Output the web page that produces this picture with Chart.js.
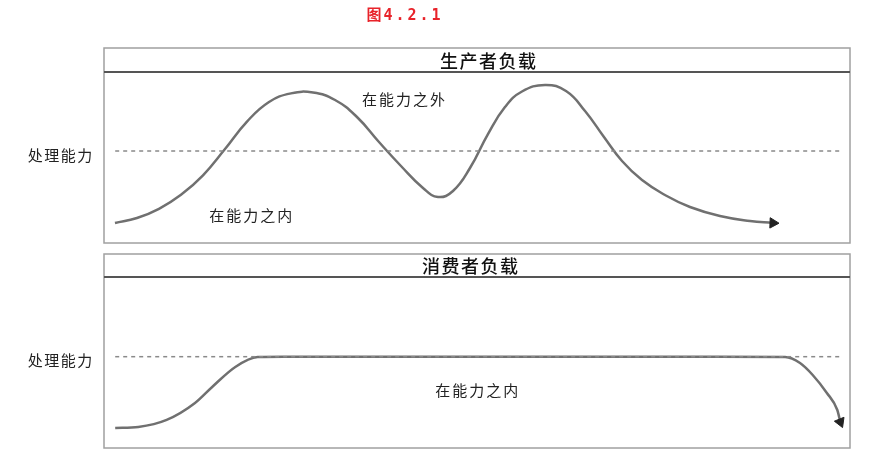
<!DOCTYPE html>
<html>
<head>
<meta charset="utf-8">
<script src="https://cdn.jsdelivr.net/npm/chart.js@4"></script>
<style>
  html, body { margin: 0; padding: 0; background: #fff; }
  #wrap { position: relative; width: 885px; height: 471px; }
  #c1 { position: absolute; left: 0; top: 0; }
  #c2 { position: absolute; left: 0; top: 250px; }
</style>
</head>
<body>
<div id="wrap">
  <canvas id="c1" width="885" height="250"></canvas>
  <canvas id="c2" width="885" height="221"></canvas>
</div>
<script>
// ---- data ----
const figureTitle = "图4.2.1";
const producerTitle = "生产者负载";
const consumerTitle = "消费者负载";
const capacityLabel = "处理能力";
const outsideLabel = "在能力之外";
const insideLabel = "在能力之内";

const producerX = [1.47, 4.42, 7.37, 10.32, 13.27, 16.22, 19.17, 22.12, 25.07, 28.02, 30.97, 33.91, 36.86, 39.81, 42.76, 44.77, 46.78, 49.06, 51.47, 53.75, 56.03, 59.12, 61.93, 64.48, 67.02, 69.44, 72.12, 75.20, 78.55, 82.57, 86.60, 89.68];
const producerY = [11.70, 14.62, 20.00, 28.20, 39.60, 54.97, 71.00, 82.46, 87.50, 88.00, 83.63, 73.68, 59.06, 45.03, 32.16, 26.90, 30.41, 43.86, 63.74, 79.50, 88.60, 92.40, 88.89, 77.19, 61.99, 47.95, 36.80, 28.07, 21.05, 15.79, 12.87, 11.70];
const producerCapacity = 53.8;

const consumerX = [1.5, 4.6, 8.4, 12.2, 14.5, 17.6, 20.6, 24.0, 40.0, 60.0, 80.0, 91.3, 93.3, 95.0, 96.9, 98.3, 98.7];
const consumerY = [11.7, 12.3, 16.4, 26.3, 35.7, 47.4, 53.2, 53.4, 53.4, 53.4, 53.4, 53.2, 49.7, 42.7, 32.2, 22.2, 15.2];
const consumerCapacity = 53.4;

const capacityX = [1.5, 99.0];

const lineColor = '#707070';
const dashColor = '#8a8a8a';
const cjk = '"Noto Sans CJK SC", "Noto Sans", sans-serif';

function pts(xs, ys) { return xs.map((x, i) => ({ x: x, y: ys[i] })); }

function spaced(ctx, text, x, y, spacing, align) {
  const chars = Array.from(text);
  const widths = chars.map(c => ctx.measureText(c).width);
  const total = widths.reduce((s, w) => s + w, 0) + spacing * (chars.length - 1);
  let cx = align === 'center' ? x - total / 2 : x;
  const saved = ctx.textAlign;
  ctx.textAlign = 'left';
  chars.forEach((c, i) => { ctx.fillText(c, cx, y); cx += widths[i] + spacing; });
  ctx.textAlign = saved;
}

function panelPlugin(cfg) {
  return {
    id: 'panel',
    afterDraw(chart) {
      const ctx = chart.ctx;
      const a = chart.chartArea;
      const xs = chart.scales.x, ys = chart.scales.y;
      ctx.save();
      ctx.strokeStyle = '#a0a0a0';
      ctx.lineWidth = 1.5;
      ctx.strokeRect(a.left, a.top - cfg.headerH, a.right - a.left, a.bottom - a.top + cfg.headerH);
      ctx.strokeStyle = '#555';
      ctx.lineWidth = 2;
      ctx.beginPath();
      ctx.moveTo(a.left, a.top);
      ctx.lineTo(a.right, a.top);
      ctx.stroke();
      ctx.fillStyle = '#111';
      ctx.font = '500 18px ' + cjk;
      ctx.textBaseline = 'middle';
      spaced(ctx, cfg.header, cfg.headerX, a.top - cfg.headerH / 2 + 1, 1.5, 'center');
      ctx.font = '15px ' + cjk;
      ctx.fillStyle = '#222';
      spaced(ctx, capacityLabel, 60, ys.getPixelForValue(cfg.capacity) + 4, 1.5, 'center');
      ctx.font = '15px ' + cjk;
      cfg.notes.forEach(n => {
        spaced(ctx, n.text, xs.getPixelForValue(n.x), ys.getPixelForValue(n.y), 2, 'left');
      });
      if (cfg.title) {
        ctx.fillStyle = '#e8232a';
        ctx.font = 'bold 15px "DejaVu Sans Mono", ' + cjk;
        ctx.textAlign = 'center';
        const chars = Array.from(figureTitle);
        let x = 374;
        chars.forEach((ch, i) => {
          ctx.fillText(ch, x, 16);
          x += (i === 0 ? 14 : 12);
        });
      }
      ctx.restore();
    }
  };
}

function makeChart(id, xs, ys, cap, arrowRot, padding, mono, tension, cfg) {
  const n = xs.length;
  return new Chart(document.getElementById(id), {
    type: 'line',
    data: {
      datasets: [
        {
          data: pts(capacityX, capacityX.map(() => cap)),
          borderColor: dashColor,
          borderWidth: 1.5,
          borderDash: [4, 4],
          pointRadius: 0,
          tension: 0
        },
        {
          data: pts(xs, ys),
          borderColor: lineColor,
          borderWidth: 2.5,
          tension: tension,
          cubicInterpolationMode: mono ? 'monotone' : 'default',
          pointRadius: xs.map((_, i) => i === n - 1 ? 6 : 0),
          pointStyle: 'triangle',
          rotation: arrowRot,
          pointBackgroundColor: '#222',
          pointBorderColor: '#222',
          pointBorderWidth: 1
        }
      ]
    },
    options: {
      responsive: false,
      animation: false,
      clip: false,
      layout: { padding: padding },
      plugins: { legend: { display: false }, tooltip: { enabled: false }, title: { display: false } },
      scales: {
        x: { type: 'linear', min: 0, max: 100, display: false },
        y: { type: 'linear', min: 0, max: 100, display: false }
      }
    },
    plugins: [panelPlugin(cfg)]
  });
}

makeChart('c1', producerX, producerY, producerCapacity, 92,
  { left: 104, right: 35, top: 72, bottom: 7 }, false, 0.45,
  { header: producerTitle, headerX: 488, headerH: 24, capacity: producerCapacity, title: true,
    notes: [ { text: outsideLabel, x: 34.6, y: 84.2 }, { text: insideLabel, x: 14.1, y: 16.4 } ] });

makeChart('c2', consumerX, consumerY, consumerCapacity, 158,
  { left: 104, right: 35, top: 27, bottom: 23 }, true, 0.4,
  { header: consumerTitle, headerX: 470, headerH: 23, capacity: consumerCapacity, title: false,
    notes: [ { text: insideLabel, x: 44.4, y: 33.9 } ] });
</script>
</body>
</html>
